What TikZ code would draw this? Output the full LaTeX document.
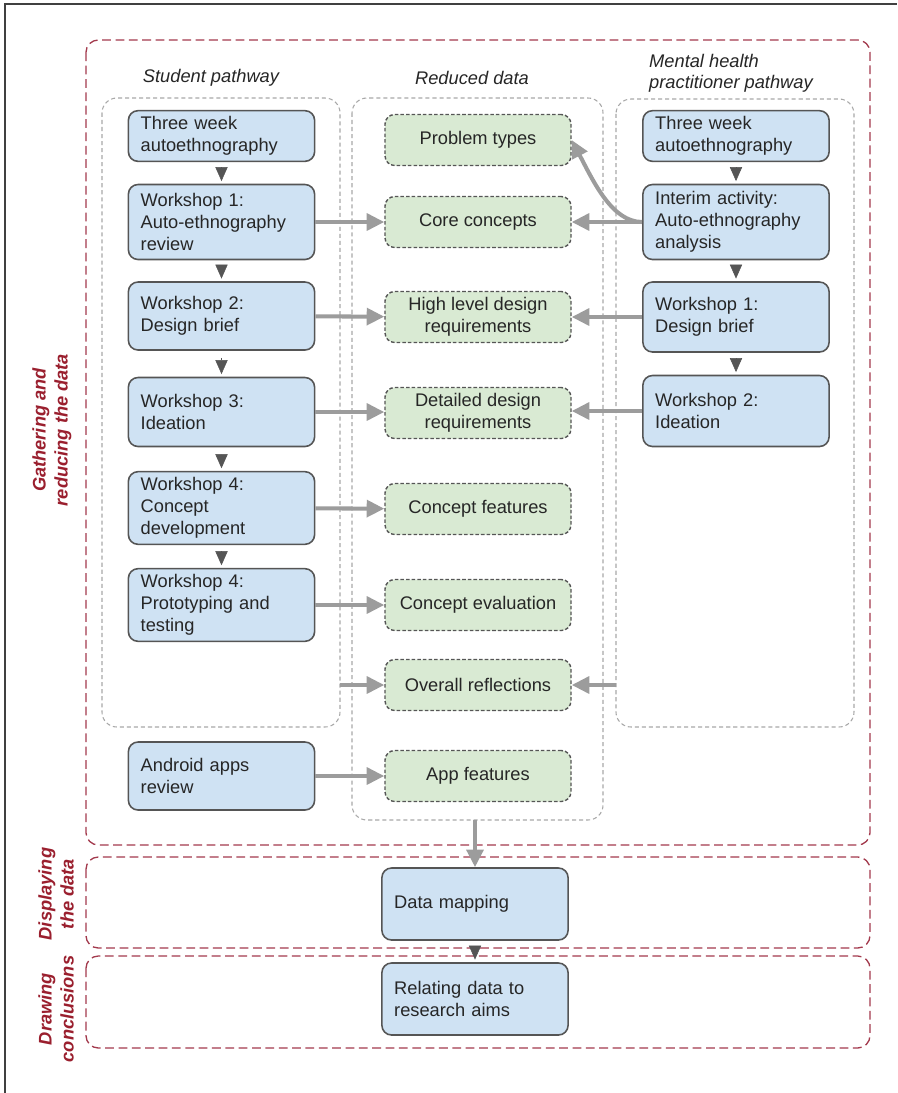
\documentclass[tikz,border=0pt]{standalone}
\usepackage{fontspec}
\setmainfont{Liberation Sans}
\usetikzlibrary{arrows.meta}

\definecolor{boxblue}{HTML}{CFE2F3}
\definecolor{boxgreen}{HTML}{D9EAD3}
\definecolor{edgegray}{HTML}{555555}
\definecolor{linkgray}{HTML}{9C9C9C}
\definecolor{contgray}{HTML}{A8A8A8}
\definecolor{regionred}{HTML}{A33A4D}
\definecolor{labelred}{HTML}{9A1F2E}
\newcommand{\unitpx}{0.02cm}

\begin{document}
\begin{tikzpicture}[x=0.02cm, y=-0.02cm,
    every node/.style={font=\fontsize{10.4}{12.5}\selectfont, text=black!85},
    bluebox/.style={draw=edgegray, line width=0.9pt, fill=boxblue, rounded corners=5.5pt,
      text width=92pt, inner xsep=7pt, align=left, minimum height={#1*\unitpx}},
    bluebox/.default=68,
    greenbox/.style={draw=edgegray, dash pattern=on 2pt off 1.2pt, line width=0.8pt, fill=boxgreen,
      rounded corners=5.5pt, minimum width={186*\unitpx}, minimum height={51*\unitpx}, align=center},
    cont/.style={draw=contgray, line width=0.6pt, dash pattern=on 2.3pt off 1.7pt, rounded corners=8.5pt},
    region/.style={draw=regionred, line width=0.75pt, dash pattern=on 5pt off 2.6pt, rounded corners=7pt},
    flow/.style={draw=linkgray, line width=2.3pt, -{Triangle[length=10pt,width=9.5pt]}},
    down/.style={draw=edgegray, line width=0.3pt, shorten <=4pt, shorten >=1.5pt,
      -{Triangle[length=8pt,width=7pt]}},
    title/.style={font=\fontsize{10.4}{12}\selectfont\itshape},
    phase/.style={rotate=90, align=center, text=labelred, font=\fontsize{10.4}{12.5}\selectfont\bfseries\itshape}
  ]
    \fill[white] (0,0) rectangle (897,1093);
    \useasboundingbox (0,0) rectangle (897,1093);
    \draw[black!75, line width=1pt] (5,1093) -- (5,4) -- (897,4);

    % phases
    \draw[region] (86,40) rectangle (870,845);
    \draw[region] (86,857) rectangle (870,948);
    \draw[region] (86,956) rectangle (870,1048);
    \node[phase] (gather) at (52,430) {Gathering and\\reducing the data};
    \node[phase] (display) at (56,894) {Displaying\\the data};
    \node[phase] (conclude) at (56,1009) {Drawing\\conclusions};

    % pathway containers
    \draw[cont] (102,98) rectangle (340,727);
    \draw[cont] (352,98) rectangle (603,820);
    \draw[cont] (616,99) rectangle (854,727);
    \node[title] (stutitle) at (211,78) {Student pathway};
    \node[title] (redtitle) at (472,78) {Reduced data};
    \node[title, anchor=west, align=left, font=\fontsize{10.4}{12.2}\selectfont\itshape] (mhtitle) at (643,73)
      {Mental health\\practitioner pathway};

    % student pathway
    \node[bluebox=50] (s1) at (221.5,136) {Three week\\autoethnography};
    \node[bluebox=75] (s2) at (221.5,222) {Workshop 1:\\Auto-ethnography\\review};
    \node[bluebox] (s3) at (221.5,316) {Workshop 2:\\Design brief};
    \node[bluebox=69] (s4) at (221.5,412) {Workshop 3:\\Ideation};
    \node[bluebox=71] (s5) at (221.5,508) {Workshop 4:\\Concept\\development};
    \node[bluebox=71] (s6) at (221.5,605) {Workshop 4:\\Prototyping and\\testing};
    \node[bluebox] (apps) at (221.5,776) {Android apps\\review};

    % reduced data
    \node[greenbox] (ptypes) at (478,140) {Problem types};
    \node[greenbox] (core) at (478,222) {Core concepts};
    \node[greenbox] (highreq) at (478,317) {High level design\\requirements};
    \node[greenbox] (detreq) at (478,413) {Detailed design\\requirements};
    \node[greenbox] (cfeat) at (478,509) {Concept features};
    \node[greenbox] (ceval) at (478,605) {Concept evaluation};
    \node[greenbox] (refl) at (478,685) {Overall reflections};
    \node[greenbox] (afeat) at (478,776) {App features};

    % practitioner pathway
    \node[bluebox=50] (m1) at (736,136) {Three week\\autoethnography};
    \node[bluebox=75] (m2) at (736,222) {Interim activity:\\Auto-ethnography\\analysis};
    \node[bluebox=70] (m3) at (736,317) {Workshop 1:\\Design brief};
    \node[bluebox=71] (m4) at (736,411) {Workshop 2:\\Ideation};

    % later phases
    \node[bluebox=72] (mapping) at (475,904) {Data mapping};
    \node[bluebox=72] (relate) at (475,999) {Relating data to\\research aims};

    \coordinate (stuedge) at (340,685);
    \coordinate (mhedge) at (616,685);
    \coordinate (redbottom) at (475,820);

    \draw[down] (s1) -- (s2); \draw[down] (s2) -- (s3); \draw[down] (s3) -- (s4);
    \draw[down] (s4) -- (s5); \draw[down] (s5) -- (s6);
    \draw[down] (m1) -- (m2); \draw[down] (m2) -- (m3); \draw[down] (m3) -- (m4);
    \draw[down] (mapping) -- (relate);

    \draw[flow] (s2) -- (core); \draw[flow] (s3) -- (highreq); \draw[flow] (s4.east) -- (detreq.west |- s4.east);
    \draw[flow] (s5) -- (cfeat); \draw[flow] (s6) -- (ceval); \draw[flow] (stuedge) -- (refl);
    \draw[flow] (apps) -- (afeat);
    \draw[flow] (m2) -- (core); \draw[flow] (m3) -- (highreq); \draw[flow] (m4.west) -- (detreq.east |- m4.west);
    \draw[flow] (mhedge) -- (refl);
    \draw[flow] (m2.west) .. controls +(-30,0) and +(22,42) .. (ptypes.east);
    \draw[flow] (redbottom) -- (mapping);
\end{tikzpicture}
\end{document}
